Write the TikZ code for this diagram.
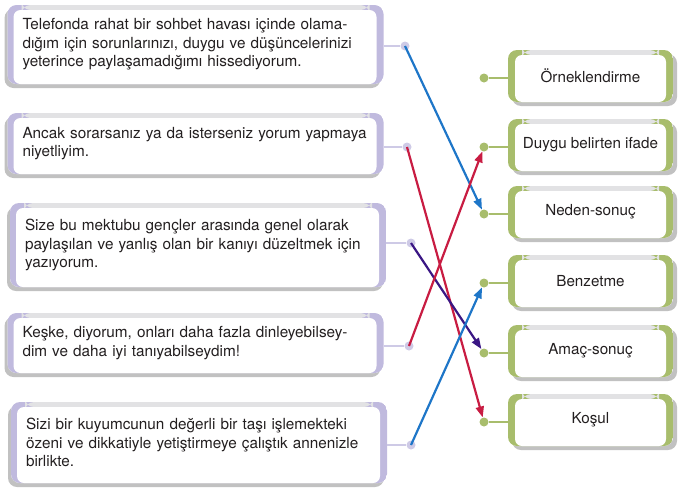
\documentclass[tikz,border=0pt]{standalone}
\usepackage{fontspec}
\setmainfont{TeX Gyre Heros}
\usetikzlibrary{arrows.meta,shadows}

\definecolor{lavbox}{RGB}{192,186,222}
\definecolor{lavdot}{RGB}{206,202,230}
\definecolor{greenbox}{RGB}{168,189,108}
\definecolor{topgray}{RGB}{226,226,228}
\definecolor{txt}{RGB}{35,31,32}
\definecolor{bluearrow}{RGB}{30,118,200}
\definecolor{redarrow}{RGB}{200,28,66}
\definecolor{purplearrow}{RGB}{58,22,132}

\tikzset{
  leftbox/.style={fill=white, rounded corners=9pt, text width=346pt, inner xsep=15pt,
    align=left, text=txt, font=\fontsize{15.3}{18.6}\selectfont,
    drop shadow={shadow xshift=-3pt, shadow yshift=-4pt, fill=gray!60, opacity=0.8},
    path picture={
      \fill[lavbox] (path picture bounding box.south west) rectangle (path picture bounding box.north east);
      \fill[topgray] ([xshift=14pt]path picture bounding box.north west) rectangle ([xshift=-14pt,yshift=-5pt]path picture bounding box.north east);
      \fill[white, rounded corners=7pt] ([xshift=6pt,yshift=-5pt]path picture bounding box.north west) rectangle ([xshift=-7pt]path picture bounding box.south east);
    }},
  rightbox/.style={fill=white, rounded corners=9pt, minimum width=165pt, minimum height=52pt,
    align=center, text=txt, font=\fontsize{15.2}{18}\selectfont,
    drop shadow={shadow xshift=4pt, shadow yshift=-4pt, fill=gray!60, opacity=0.8},
    path picture={
      \fill[greenbox] (path picture bounding box.south west) rectangle (path picture bounding box.north east);
      \fill[topgray] ([xshift=14pt]path picture bounding box.north west) rectangle ([xshift=-14pt,yshift=-5pt]path picture bounding box.north east);
      \fill[white, rounded corners=7pt] ([xshift=7pt,yshift=-5pt]path picture bounding box.north west) rectangle ([xshift=-7pt]path picture bounding box.south east);
    }},
  ldot/.style={circle, fill=lavdot, inner sep=0pt, minimum size=9pt},
  rdot/.style={circle, fill=greenbox, inner sep=0pt, minimum size=9pt},
  llink/.style={lavdot, line width=1.5pt},
  rlink/.style={greenbox, line width=1.5pt},
  match/.style={line width=2.2pt, -{Triangle[length=11pt,width=8pt]}}
}

\begin{document}
\begin{tikzpicture}[x=1pt,y=-1pt]
\useasboundingbox (0,0) rectangle (683,493);

\node[leftbox, minimum height=79pt] (l1) at (195.5,44.5) {Telefonda rahat bir sohbet havası içinde olama-\\dığım için sorunlarınızı, duygu ve düşüncelerinizi\\yeterince paylaşamadığımı hissediyorum.};
\node[leftbox, minimum height=61pt] (l2) at (195.5,143.5) {Ancak sorarsanız ya da isterseniz yorum yapmaya\\niyetliyim.};
\node[leftbox, minimum height=84pt] (l3) at (198,245) {Size bu mektubu gençler arasında genel olarak\\paylaşılan ve yanlış olan bir kanıyı düzeltmek için\\yazıyorum.};
\node[leftbox, minimum height=60pt] (l4) at (195.5,343) {Keşke, diyorum, onları daha fazla dinleyebilsey-\\dim ve daha iyi tanıyabilseydim!};
\node[leftbox, minimum height=81pt] (l5) at (199,442.5) {Sizi bir kuyumcunun değerli bir taşı işlemekteki\\özeni ve dikkatiyle yetiştirmeye çalıştık annenizle\\birlikte.};

\node[ldot] (ld1) at (405,46) {};
\node[ldot] (ld2) at (407,147) {};
\node[ldot] (ld3) at (411,243) {};
\node[ldot] (ld4) at (409,346) {};
\node[ldot] (ld5) at (411,445) {};
\foreach \i in {1,...,5}{
  \draw[llink] (l\i.east |- ld\i) -- (ld\i);
}

\foreach \name/\lbl/\y in {r1/Örneklendirme/76, r2/Duygu belirten ifade/145, r3/Neden-sonuç/212, r4/Benzetme/281, r5/Amaç-sonuç/351, r6/Koşul/420}{
  \node[rightbox] (\name) at (590.5,\y) {\lbl};
  \node[rdot] (\name d) at (484,\y+2) {};
  \draw[rlink] (\name d) -- (\name.west |- \name d);
}

\draw[match, bluearrow] (ld1.center) -- (r3d);
\draw[match, redarrow] (ld2.center) -- (r6d);
\draw[match, purplearrow] (ld3.center) -- (r5d);
\draw[match, redarrow] (ld4.center) -- (r2d);
\draw[match, bluearrow] (ld5.center) -- (r4d);
\end{tikzpicture}
\end{document}
